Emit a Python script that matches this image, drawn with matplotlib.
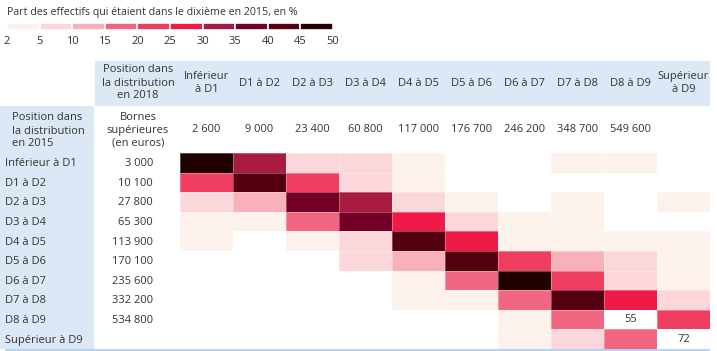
import numpy as np
import matplotlib
matplotlib.use("Agg")
import matplotlib.pyplot as plt
from matplotlib.colors import ListedColormap, BoundaryNorm
from matplotlib.transforms import blended_transform_factory

plt.rcParams['font.family'] = ['Open Sans', 'DejaVu Sans']

# categories (2015 rows, 2018 columns)
positions = ["Inférieur à D1", "D1 à D2", "D2 à D3", "D3 à D4", "D4 à D5",
             "D5 à D6", "D6 à D7", "D7 à D8", "D8 à D9", "Supérieur à D9"]
col_labels = ["Inférieur\nà D1", "D1 à D2", "D2 à D3", "D3 à D4", "D4 à D5",
              "D5 à D6", "D6 à D7", "D7 à D8", "D8 à D9", "Supérieur\nà D9"]
bornes_2018 = ["2 600", "9 000", "23 400", "60 800", "117 000", "176 700",
               "246 200", "348 700", "549 600", ""]
bornes_2015 = ["3 000", "10 100", "27 800", "65 300", "113 900", "170 100",
               "235 600", "332 200", "534 800", ""]

# share (%) of people in each 2015 decile found in each 2018 decile
shares = np.array([
    [46, 31, 8, 6, 3, 1, 1, 2, 2, 0.5],
    [22, 42, 21, 7, 3, 1, 1, 1, 1, 1],
    [6, 11, 36, 30, 6, 3, 1, 3, 1, 3],
    [3, 3, 17, 37, 27, 6, 3, 2, 1, 1],
    [3, 1, 3, 8, 42, 28, 4, 4, 3, 4],
    [0.5, 0.5, 1, 6, 11, 41, 21, 11, 6, 3],
    [0.5, 0.5, 0.5, 1, 4, 17, 46, 21, 6, 3],
    [0.5, 0.5, 0.5, 1, 3, 4, 17, 42, 26, 7],
    [0.5, 0.5, 0.5, 0.5, 1, 1, 3, 16, 55, 22],
    [0.5, 0.5, 0.5, 0.5, 1, 1, 2, 6, 15, 72],
])

bounds = [2, 5, 10, 15, 20, 25, 30, 35, 40, 45, 50]
colors = ["#FDF1EC", "#FBD7DC", "#F8B0BA", "#F16680", "#EF3E60",
          "#EF1A48", "#A81C42", "#750025", "#540010", "#200000"]

txt = "#333333"
blue = "#DCE8F5"
fs = 8

cmap = ListedColormap(colors)
cmap.set_under("white")
cmap.set_over("white")
norm = BoundaryNorm(bounds, cmap.N)

fig = plt.figure(figsize=(7.17, 3.51), dpi=100)

# background layer in pixel units
bg = fig.add_axes([0, 0, 1, 1])
bg.set_xlim(0, 717)
bg.set_ylim(351, 0)
bg.axis("off")
bg.add_patch(plt.Rectangle((95, 61), 615, 45, color=blue, lw=0))
bg.add_patch(plt.Rectangle((0, 106), 94, 243, color=blue, lw=0))
bg.add_patch(plt.Rectangle((5, 348.5), 705, 2.5, color="#B9D3EC", lw=0))

bg.text(7, 13, "Part des effectifs qui étaient dans le dixième en 2015, en %",
        fontsize=7.7, color=txt, va="center", ha="left")
bg.text(138, 83, "Position dans\nla distribution\nen 2018", fontsize=fs,
        color=txt, ha="center", va="center", linespacing=1.25)
for k, line in enumerate(["Position dans", "la distribution", "en 2015"]):
    bg.text(12, 118 + 13 * k, line, fontsize=fs, color=txt, ha="left",
            va="center")
bg.text(138, 130, "Bornes\nsupérieures\n(en euros)", fontsize=fs,
        color=txt, ha="center", va="center", linespacing=1.25)

# heatmap
hm = fig.add_axes([180 / 717, 2 / 351, 530 / 717, 196 / 351])
n = len(positions)
hm.pcolormesh(np.arange(n + 1), np.arange(n + 1), shares, cmap=cmap, norm=norm,
              edgecolors=(1, 1, 1, 0.3), linewidth=0.6)
hm.set_xlim(0, n)
hm.set_ylim(n, 0)
hm.axis("off")
for i in range(n):
    for j in range(n):
        if shares[i, j] > bounds[-1]:
            hm.text(j + 0.5, i + 0.5, f"{shares[i, j]:.0f}", ha="center",
                    va="center", fontsize=fs, color=txt)

colx = blended_transform_factory(hm.transData, bg.transData)
rowy = blended_transform_factory(bg.transData, hm.transData)
for j, lab in enumerate(col_labels):
    bg.text(j + 0.5, 83, lab, transform=colx, ha="center", va="center",
            fontsize=fs, color=txt, linespacing=1.25)
    bg.text(j + 0.5, 130, bornes_2018[j], transform=colx, ha="center",
            va="center", fontsize=fs, color=txt)
for i, lab in enumerate(positions):
    bg.text(5, i + 0.55, lab, transform=rowy, ha="left", va="center",
            fontsize=fs, color=txt)
    bg.text(153, i + 0.55, bornes_2015[i], transform=rowy, ha="right",
            va="center", fontsize=fs, color=txt)

# legend strip
lg = fig.add_axes([7 / 717, (351 - 30) / 351, 326 / 717, 7 / 351])
lg.bar(np.arange(len(colors)), np.ones(len(colors)), width=1, align="edge",
       color=colors, edgecolor="white", linewidth=1.2)
lg.set_xlim(0, len(colors))
lg.set_ylim(0, 1)
lg.axis("off")
legx = blended_transform_factory(lg.transData, bg.transData)
for k, b in enumerate(bounds):
    bg.text(k, 42, str(b), transform=legx, ha="center", va="center",
            fontsize=fs, color=txt)

fig.savefig("out.png", dpi=100)
